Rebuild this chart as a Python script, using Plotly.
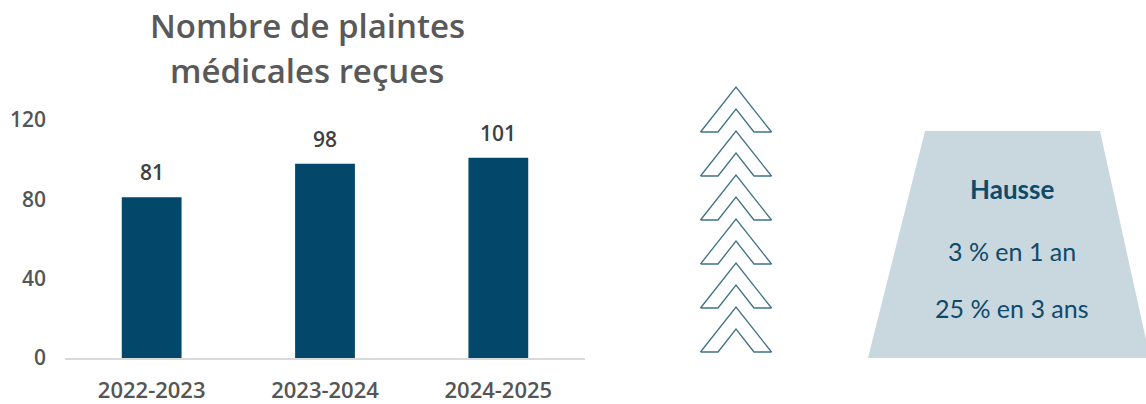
import plotly.graph_objects as go

# ---- data ----
categories = ["2022-2023", "2023-2024", "2024-2025"]
values = [81, 98, 101]
y_ticks = [0, 40, 80, 120]
title_lines = ["Nombre de plaintes", "médicales reçues"]
box_title = "Hausse"
box_lines = ["3 % en 1 an", "25 % en 3 ans"]
n_chevrons = 6

# ---- styles ----
W, H = 1146, 404
BAR = "#03486a"
GREY = "#595959"
DARK = "#404040"
TICK = "#555555"
CHEV = "#3f7189"
BOX = "#c9d8df"
BOXTXT = "#0e4a6a"
FONT = "Open Sans"
BOXFONT = "Lato"

fig = go.Figure()

fig.add_trace(go.Bar(
    x=categories, y=values, marker=dict(color=BAR, line=dict(width=0)),
    xaxis="x", yaxis="y", hoverinfo="skip", showlegend=False,
))
for c, v in zip(categories, values):
    fig.add_annotation(x=c, y=v, xref="x", yref="y", text=str(v), showarrow=False,
                       yanchor="bottom", yshift=9,
                       font=dict(family=FONT, size=21, color=DARK, weight=600))

# decorative chevrons (pixel-like overlay axis)
tip_x = 736
tip_y0, step = 87, 44
tpl_x = [-35.5, 0, 35.5, 18, 0, -18, -35.5]
tpl_y = [45, 0, 45, 45, 22, 45, 45]
for i in range(n_chevrons):
    ty = tip_y0 + i * step
    fig.add_trace(go.Scatter(
        x=[tip_x + dx for dx in tpl_x], y=[ty + dy for dy in tpl_y],
        mode="lines", line=dict(color=CHEV, width=1.3),
        xaxis="x2", yaxis="y2", hoverinfo="skip", showlegend=False,
    ))

# trapezoid
fig.add_trace(go.Scatter(
    x=[925, 1100, 1150, 868, 925], y=[131, 131, 358, 358, 131],
    mode="lines", fill="toself", fillcolor=BOX, line=dict(width=0, color=BOX),
    xaxis="x2", yaxis="y2", hoverinfo="skip", showlegend=False,
))
fig.add_annotation(x=1012, y=189, xref="x2", yref="y2", text=f"<b>{box_title}</b>",
                   showarrow=False, font=dict(family=BOXFONT, size=26, color=BOXTXT))
fig.add_annotation(x=1012, y=251, xref="x2", yref="y2", text=box_lines[0],
                   showarrow=False, font=dict(family=BOXFONT, size=25, color=BOXTXT))
fig.add_annotation(x=1012, y=308, xref="x2", yref="y2", text=box_lines[1],
                   showarrow=False, font=dict(family=BOXFONT, size=25, color=BOXTXT))

# title (two lines)
for txt, yc in zip(title_lines, [25, 70]):
    fig.add_annotation(x=307, y=yc, xref="x2", yref="y2",
                       xanchor="center", yanchor="middle",
                       text=txt, showarrow=False,
                       font=dict(family=FONT, size=33, color=GREY, weight=600))

fig.update_layout(
    width=W, height=H, margin=dict(l=0, r=0, t=0, b=0, autoexpand=False),
    paper_bgcolor="white", plot_bgcolor="rgba(0,0,0,0)",
    bargap=0.655,
    xaxis=dict(domain=[65 / W, 585 / W], showgrid=False, showline=True,
               linecolor="#d9d9d9", linewidth=1.5, ticks="", ticklabelstandoff=12,
               tickfont=dict(family=FONT, size=22, color=TICK, weight=600),
               anchor="y", fixedrange=True, automargin=False),
    yaxis=dict(domain=[(H - 358) / H, (H - 120) / H], range=[0, 120],
               tickvals=y_ticks, showgrid=False, zeroline=False, showline=False,
               ticks="", ticklabelstandoff=18,
               tickfont=dict(family=FONT, size=21, color=TICK, weight=600),
               anchor="x", fixedrange=True, automargin=False),
    xaxis2=dict(domain=[0, 1], range=[0, W], visible=False, anchor="y2",
                fixedrange=True, automargin=False),
    yaxis2=dict(domain=[0, 1], range=[H, 0], visible=False, anchor="x2",
                fixedrange=True, automargin=False),
)

fig.write_html("out.html")
